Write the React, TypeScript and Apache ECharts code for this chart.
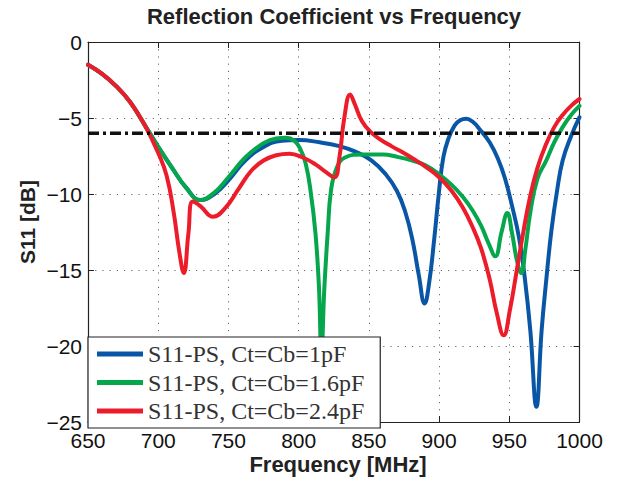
import React, { useEffect, useRef } from "react";
import * as echarts from "echarts";

const xTicks = [650, 700, 750, 800, 850, 900, 950, 1000];
const yTicks = [-25, -20, -15, -10, -5, 0];
const thresholdDb = -6;

const seriesNames = [
  "S11-PS, Ct=Cb=1pF",
  "S11-PS, Ct=Cb=1.6pF",
  "S11-PS, Ct=Cb=2.4pF",
];
const seriesColors = ["#0a56a6", "#06a64d", "#ec1c2a"];

const commonStart: [number, number][] = [
  [650, -1.5], [660, -2.1], [670, -2.9], [680, -3.95], [690, -5.4],
];

const blueData: [number, number][] = [
  ...commonStart,
  [700, -6.9], [710, -8.3], [720, -9.6], [730, -10.4], [740, -10.0],
  [750, -9.1], [762, -7.8], [775, -6.9], [788, -6.5],
  [800, -6.45], [815, -6.6], [829, -6.85], [840, -7.2],
  [852, -7.8], [862, -8.7], [870, -9.8], [876, -11.2], [881, -13.0],
  [885.5, -15.3], [889.7, -17.2], [893, -15.8], [896.5, -13.0],
  [900, -9.8], [903, -7.6], [906.5, -6.4], [911, -5.5],
  [915, -5.15], [919.4, -5.05], [924, -5.25], [929, -5.75], [936, -6.6],
  [942, -7.7], [947, -9.0], [952, -10.8], [957, -12.9],
  [961, -15.5], [965, -19.0], [969.3, -24.0],
  [973, -19.0], [976.5, -15.5], [980, -12.4], [984, -9.8],
  [988, -7.8], [994, -6.2], [1000, -4.95],
];

const greenData: [number, number][] = [
  ...commonStart,
  [700, -6.9], [710, -8.3], [720, -9.6], [730, -10.4], [740, -9.9],
  [750, -8.9], [762, -7.6], [775, -6.65], [784, -6.35],
  [791, -6.3], [797, -6.5], [801, -7.0], [805, -8.0], [808.5, -9.8],
  [812, -12.6], [814.5, -16.2], [816.2, -20.5],
  [818.3, -16.2], [820.8, -12.4], [823, -9.8],
  [827, -8.3], [833, -7.6], [845, -7.4], [860, -7.4], [870, -7.55],
  [881, -7.8], [890, -8.1], [900, -8.7], [909, -9.4], [917, -10.2], [924, -11.1],
  [930, -12.1], [935.5, -13.3], [940, -14.1],
  [944.5, -12.5], [948.6, -11.25], [952, -12.6],
  [955.5, -14.4], [958.5, -15.2], [961.5, -13.6], [965, -11.2],
  [970, -9.0], [976.3, -7.8], [982, -6.6], [988, -5.6], [994, -4.8], [1000, -4.2],
];

const redData: [number, number][] = [
  ...commonStart,
  [700, -7.3], [706, -8.8], [711, -11.2], [715, -13.8],
  [718.2, -15.2], [721.5, -12.6], [724.6, -10.5],
  [730, -10.8], [739, -11.5], [748, -10.9], [757, -9.7],
  [766, -8.5], [775, -7.8], [784, -7.45], [793.5, -7.35], [803, -7.6],
  [812, -8.05], [820, -8.6], [825.5, -8.9],
  [829, -7.6], [832.5, -5.0], [836.7, -3.45],
  [840, -4.1], [845, -5.2], [851, -5.9], [858, -6.4],
  [866, -6.85], [874, -7.25], [882, -7.7], [891, -8.25], [900, -8.9], [909, -9.8],
  [917, -10.9], [924, -12.2], [930, -13.6], [936, -15.6], [941, -17.8],
  [946, -19.3], [950.5, -17.6], [955, -15.2],
  [960, -12.5], [964.5, -10.3], [970, -8.3], [976.3, -6.7], [982, -5.6],
  [988, -4.8], [994, -4.2], [1000, -3.75],
];

const seriesData = [blueData, greenData, redData];
const thresholdData: [number, number][] = [
  [xTicks[0], thresholdDb],
  [xTicks[xTicks.length - 1], thresholdDb],
];

const minus = (v: number) => (v < 0 ? "\u2212" + Math.abs(v) : String(v));

export default function App() {
  const ref = useRef<HTMLDivElement>(null);
  useEffect(() => {
    document.body.style.margin = "0";
    const chart = echarts.init(ref.current!, undefined, { renderer: "svg" });
    const sans = "Liberation Sans, Arial, Helvetica, sans-serif";
    const gridLine = { show: true, lineStyle: { color: "#666", width: 1, type: [1.2, 6] as any } };
    const axisBase = {
      type: "value" as const,
      axisLine: { show: true, onZero: false, lineStyle: { color: "#222", width: 1.2 } },
      axisTick: { show: true, inside: true, length: 6, lineStyle: { color: "#222", width: 1 } },
    };
    chart.setOption({
      animation: false,
      backgroundColor: "#fff",
      grid: { left: 88, top: 42, right: 39.5, bottom: 59, containLabel: false },
      xAxis: [
        {
          ...axisBase,
          position: "bottom",
          min: xTicks[0],
          max: xTicks[xTicks.length - 1],
          interval: 50,
          splitLine: gridLine,
          axisLabel: {
            color: "#111",
            fontSize: 21,
            fontFamily: sans,
            margin: 8,
            formatter: (v: number) => String(v),
          },
        },
        {
          ...axisBase,
          position: "top",
          min: xTicks[0],
          max: xTicks[xTicks.length - 1],
          interval: 50,
          splitLine: { show: false },
          axisLabel: { show: false },
        },
      ],
      yAxis: [
        {
          ...axisBase,
          position: "left",
          min: yTicks[0],
          max: yTicks[yTicks.length - 1],
          interval: 5,
          splitLine: gridLine,
          axisLabel: {
            color: "#111",
            fontSize: 21,
            fontFamily: sans,
            margin: 6,
            formatter: (v: number) => minus(v),
          },
        },
        {
          ...axisBase,
          position: "right",
          min: yTicks[0],
          max: yTicks[yTicks.length - 1],
          interval: 5,
          splitLine: { show: false },
          axisLabel: { show: false },
        },
      ],
      legend: {
        orient: "vertical",
        left: 88,
        top: 337,
        data: seriesNames,
        icon: "rect",
        itemWidth: 46,
        itemHeight: 5,
        itemGap: 4.5,
        padding: [5, 16, 5, 9],
        backgroundColor: "#fff",
        borderColor: "#222",
        borderWidth: 1.2,
        borderRadius: 0,
        textStyle: {
          fontFamily: "Liberation Serif, Times New Roman, serif",
          fontSize: 24,
          color: "#333",
          padding: [0, 0, 0, 0],
        },
      },
      graphic: [
        {
          type: "text",
          x: 334,
          y: 16,
          style: {
            text: "Reflection Coefficient vs Frequency",
            font: "bold 22px Liberation Sans, Arial, sans-serif",
            fill: "#222",
            align: "center",
            verticalAlign: "middle",
          },
        },
        {
          type: "text",
          x: 338,
          y: 464,
          style: {
            text: "Frequency [MHz]",
            font: "bold 22px Liberation Sans, Arial, sans-serif",
            fill: "#222",
            align: "center",
            verticalAlign: "middle",
          },
        },
        {
          type: "text",
          x: 27,
          y: 222,
          rotation: Math.PI / 2,
          style: {
            text: "S11 [dB]",
            font: "bold 21px Liberation Sans, Arial, sans-serif",
            fill: "#222",
            align: "center",
            verticalAlign: "middle",
          },
        },
      ],
      series: [
        ...seriesNames.map((name, i) => ({
          name,
          type: "line",
          data: seriesData[i],
          showSymbol: false,
          symbol: "none",
          smooth: 0.45,
          lineStyle: { color: seriesColors[i], width: 4, join: "round", cap: "round" },
          itemStyle: { color: seriesColors[i] },
          z: 2 + i,
        })),
        {
          name: "threshold",
          type: "line",
          data: thresholdData,
          showSymbol: false,
          symbol: "none",
          lineStyle: { color: "#111", width: 3.5, type: [11, 4, 3, 4] },
          z: 6,
        },
      ],
    });
    return () => chart.dispose();
  }, []);
  return (
    <div
      ref={ref}
      style={{ position: "absolute", left: 0, top: 0, width: 619, height: 481 }}
    />
  );
}
